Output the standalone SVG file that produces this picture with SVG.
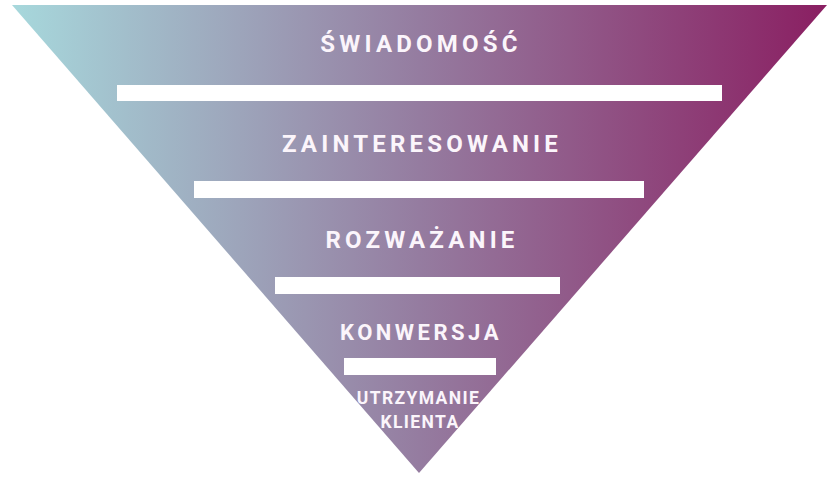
<svg xmlns="http://www.w3.org/2000/svg" width="840" height="480" viewBox="0 0 840 480">
<defs>
<linearGradient id="g" x1="12" y1="0" x2="827" y2="0" gradientUnits="userSpaceOnUse">
<stop offset="0" stop-color="#a7d8dc"/>
<stop offset="0.5" stop-color="#957ca0"/>
<stop offset="1" stop-color="#8a1f62"/>
</linearGradient>
<style>
.bar{fill:#ffffff}
.t{font-family:Roboto,"Liberation Sans",sans-serif;font-weight:bold;fill:#fbf5fb;text-anchor:middle}
.big{font-size:24px;letter-spacing:4.2px}
.mid{font-size:22px;letter-spacing:3.5px}
.sm{font-size:17.5px;letter-spacing:1.4px}
</style>
</defs>
<rect width="840" height="480" fill="#ffffff"/>
<polygon points="12,5 827,5 419,473" fill="url(#g)"/>
<g id="level1"><rect class="bar" x="117" y="85" width="605" height="16"/><text class="t big" x="421" y="52">ŚWIADOMOŚĆ</text></g>
<g id="level2"><rect class="bar" x="194" y="181" width="450" height="17"/><text class="t big" x="422" y="152">ZAINTERESOWANIE</text></g>
<g id="level3"><rect class="bar" x="275" y="277" width="285" height="17"/><text class="t big" x="422" y="248">ROZWAŻANIE</text></g>
<g id="level4"><rect class="bar" x="344" y="358" width="152" height="17"/><text class="t mid" x="421" y="340">KONWERSJA</text></g>
<g id="level5"><text class="t sm" x="418.5" y="404">UTRZYMANIE</text><text class="t sm" x="420" y="428">KLIENTA</text></g>
<g id="connectors"/>
</svg>
